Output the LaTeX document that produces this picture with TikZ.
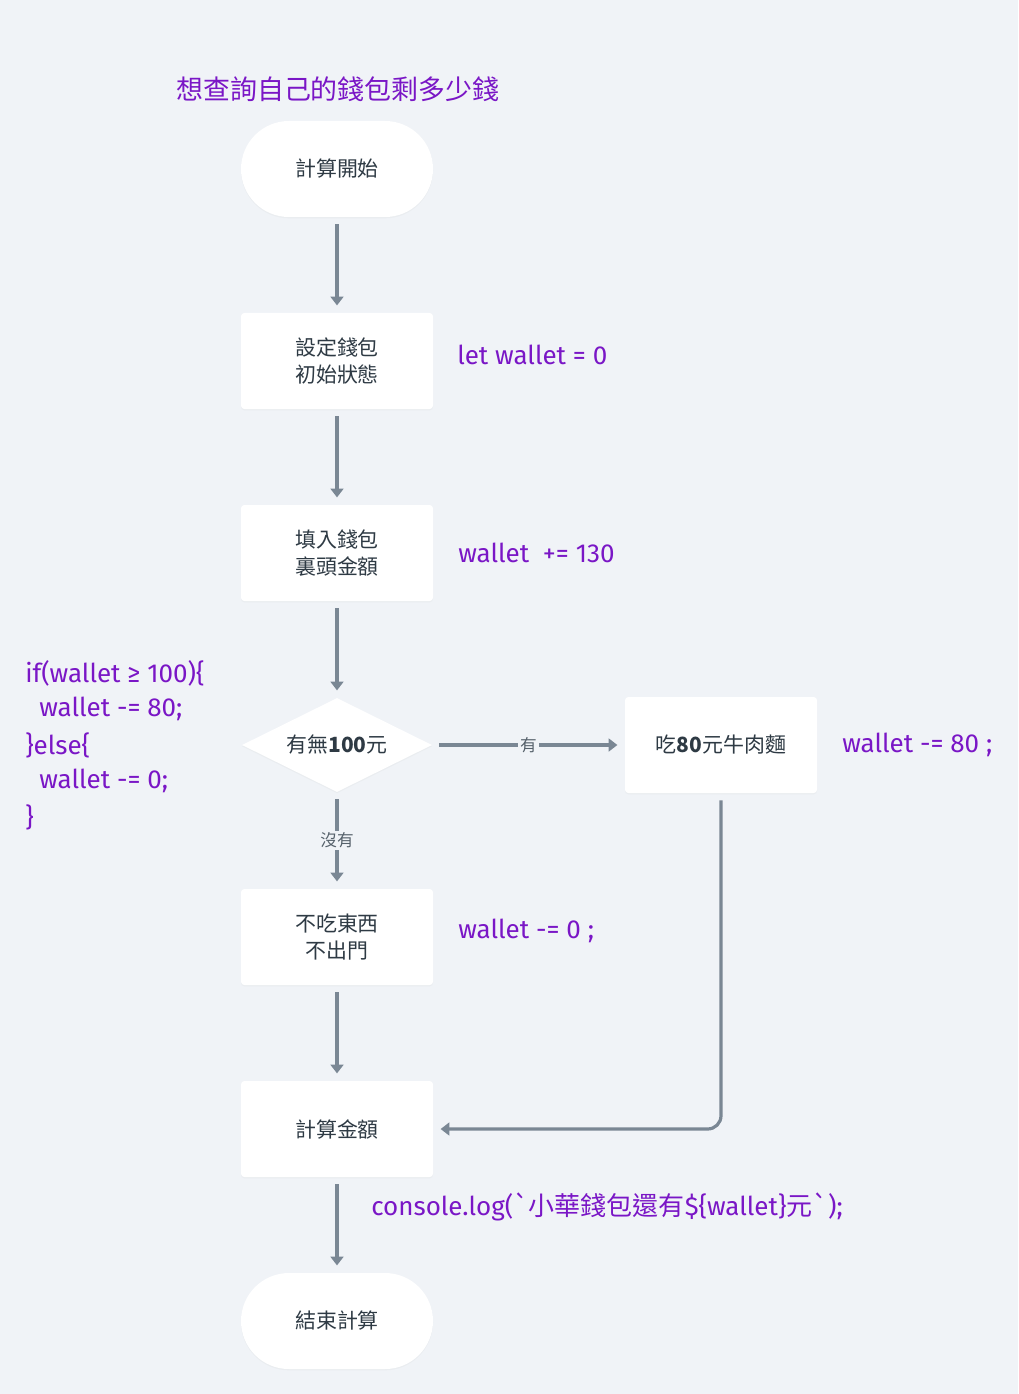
\documentclass[tikz,border=0pt]{standalone}
\usepackage{fontspec}
\setmainfont{Fira Sans}
\newfontfamily\cjk{Noto Sans CJK TC}
\newfontfamily\code{Fira Sans}[Ligatures=TeXOff]
\newfontfamily\cjkcode{Noto Sans CJK TC}[Ligatures=TeXOff]
\usetikzlibrary{arrows.meta,shapes.geometric,shadows}
\definecolor{bgc}{HTML}{F0F3F7}
\definecolor{purp}{HTML}{7A16C6}
\definecolor{arrc}{HTML}{7A8794}
\definecolor{txtc}{HTML}{2E3A44}
\definecolor{lblc}{HTML}{56616B}
\tikzset{
  shape base/.style={fill=white, draw=none, text=txtc, font=\cjk\fontsize{15.7}{20.25}\selectfont, align=center,
    drop shadow={opacity=0.05, shadow xshift=0pt, shadow yshift=-1pt}},
  term/.style={shape base, rectangle, rounded corners=36pt, minimum width=144pt, minimum height=72pt, inner sep=0pt},
  stepbox/.style={shape base, rectangle, rounded corners=2.5pt, minimum width=144pt, minimum height=72pt, inner sep=0pt},
  decide/.style={shape base, diamond, aspect=2, minimum width=142.5pt, minimum height=70.5pt, inner sep=0pt},
  arr/.style={draw=arrc, line width=2.4pt, -{Triangle[width=9.5pt,length=6.5pt]}, shorten <=5.25pt, shorten >=5.5pt},
  lbl/.style={fill=bgc, text=lblc, font=\cjk\fontsize{12.5}{14}\selectfont, inner sep=1.5pt},
  codetxt/.style={text=purp, font=\code\fontsize{19.5}{22}\selectfont, anchor=west, inner sep=0pt},
}
\begin{document}
\begin{tikzpicture}[x=0.75pt,y=-0.75pt]
\fill[bgc] (0,0) rectangle (1018,1394);
\useasboundingbox (0,0) rectangle (1018,1394);

\node[text=purp, font=\cjk\fontsize{20.2}{24}\selectfont, anchor=west, inner sep=0pt] (title) at (176,89) {想查詢自己的錢包剩多少錢};

\node[term] (start) at (337,169) {計算開始};
\node[stepbox] (init) at (337,361) {設定錢包\\初始狀態};
\node[stepbox] (fill) at (337,553) {填入錢包\\裏頭金額};
\node[decide] (check) at (337,745) {有無\textbf{100}元};
\node[stepbox] (beef) at (721,745) {吃\textbf{80}元牛肉麵};
\node[stepbox] (none) at (337,937) {不吃東西\\不出門};
\node[stepbox] (calc) at (337,1129) {計算金額};
\node[term] (stop) at (337,1321) {結束計算};

\draw[arr] (start) -- (init);
\draw[arr] (init) -- (fill);
\draw[arr] (fill) -- (check);
\draw[arr] (check) -- node[lbl] (yes) {有} (beef);
\draw[arr] (check) -- node[lbl] (no) {沒有} (none);
\draw[arr] (none) -- (calc);
\draw[arr, rounded corners=10pt] (beef.south) |- (calc.east);
\draw[arr] (calc) -- (stop);

\node[codetxt] (c1) at (457,355) {let wallet = 0};
\node[codetxt] (c2) at (458,553) {wallet\ \ += 130};
\node[codetxt] (c3) at (842,745) {wallet -= 80 ;};
\node[codetxt] (c4) at (458,931) {wallet -= 0 ;};
\node[codetxt] (c5) at (371,1207) {console.log({\cjkcode `小華錢包還有}\$\{wallet\}{\cjkcode 元`});};

\node[codetxt] (i1) at (25,673) {if(wallet ≥ 100)\{};
\node[codetxt] (i2) at (39,709) {wallet -= 80;};
\node[codetxt] (i3) at (25,745) {\}else\{};
\node[codetxt] (i4) at (39,781) {wallet -= 0;};
\node[codetxt] (i5) at (25,817) {\}};
\end{tikzpicture}
\end{document}
